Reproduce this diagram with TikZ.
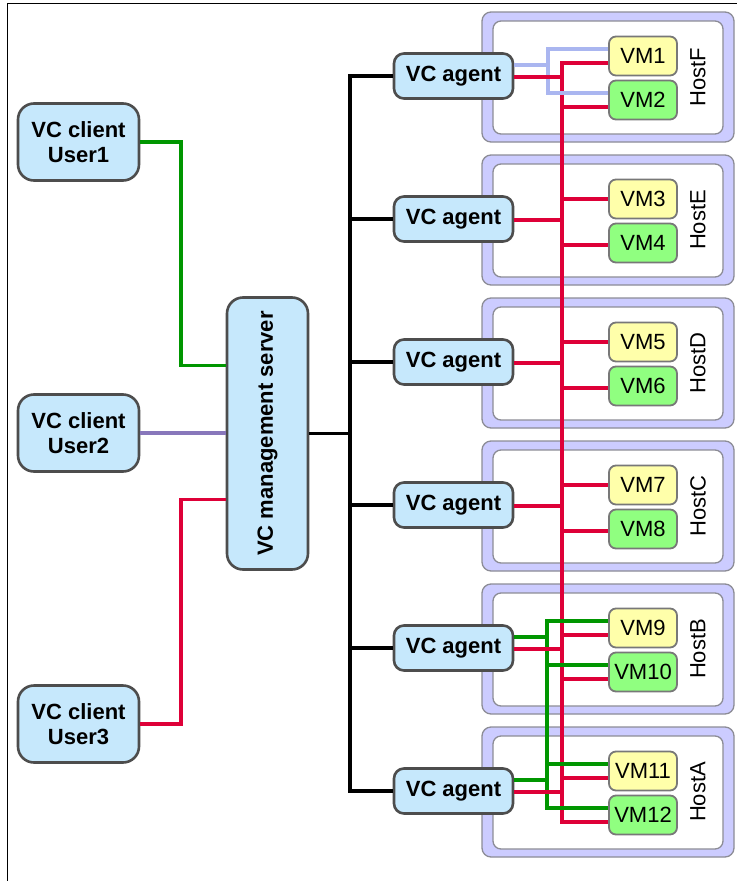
\documentclass[tikz,border=0pt]{standalone}
\usepackage{fontspec}
\setmainfont{Liberation Sans}
\usetikzlibrary{calc}

\definecolor{boxblue}{RGB}{198,232,252}
\definecolor{boxedge}{RGB}{77,77,77}
\definecolor{vmyellow}{RGB}{255,255,170}
\definecolor{vmgreen}{RGB}{144,255,128}
\definecolor{vmedge}{RGB}{120,120,120}
\definecolor{hostfill}{RGB}{204,204,255}
\definecolor{hostedge}{RGB}{140,140,150}
\definecolor{netred}{RGB}{222,0,56}
\definecolor{netgreen}{RGB}{0,150,0}
\definecolor{netpurple}{RGB}{136,119,187}
\definecolor{netlav}{RGB}{170,182,240}

\begin{document}
\begin{tikzpicture}[x=1pt,y=-1pt,
  boldtext/.style={font=\bfseries\fontsize{22}{25}\selectfont},
  client/.style={boldtext, draw=boxedge, line width=2.6pt, fill=boxblue,
    rounded corners=16pt, minimum width=121pt, minimum height=77pt,
    align=center, inner sep=0pt},
  agentbox/.style={boldtext, draw=boxedge, line width=2.6pt, fill=boxblue,
    rounded corners=10pt, minimum width=119pt, minimum height=45pt, inner sep=0pt},
  serverbox/.style={boldtext, draw=boxedge, line width=2.6pt, fill=boxblue,
    rounded corners=16pt, minimum width=272pt, minimum height=81pt,
    rotate=90, inner sep=0pt},
  vmbox/.style={font=\fontsize{22}{22}\selectfont, draw=vmedge, line width=1.8pt,
    rounded corners=7pt, minimum width=68pt, minimum height=39pt, inner sep=0pt},
  hostlabel/.style={font=\fontsize{22}{22}\selectfont, rotate=90, inner sep=0pt},
  hostouter/.style={draw=hostedge, line width=1.3pt, fill=hostfill, rounded corners=9pt},
  hostinner/.style={draw=hostedge, line width=1.3pt, fill=white, rounded corners=8pt},
  blkln/.style={line width=3.2pt, black},
  redln/.style={line width=3.3pt, netred},
  grnln/.style={line width=3.3pt, netgreen},
  purln/.style={line width=3.3pt, netpurple},
  lavln/.style={line width=3.3pt, netlav},
]
\useasboundingbox (0,0) rectangle (737,881);

% frame lines
\draw[line width=1pt] (7,881) -- (7,3.5) -- (737,3.5);

% hosts, agents and virtual machines
\foreach \k/\nm in {0/F,1/E,2/D,3/C,4/B,5/A}{
  \pgfmathsetmacro\T{12+143*\k}
  \pgfmathtruncatemacro\a{2*\k+1}
  \pgfmathtruncatemacro\b{2*\k+2}
  \draw[hostouter] (482,\T) rectangle (734,\T+130);
  \draw[hostinner] (493,\T+9) rectangle (723,\T+122);
  \node[hostlabel] (host\nm) at (698,\T+65) {Host\nm};
  \node[vmbox, fill=vmyellow] (vm\a) at (643,\T+44) {VM\a};
  \node[vmbox, fill=vmgreen] (vm\b) at (643,\T+88) {VM\b};
  \node[agentbox] (ag\k) at (453.5,\T+64) {VC agent};
}

% clients and management server
\node[client] (c1) at (78.5,142) {VC client\\User1};
\node[client] (c2) at (78.5,433) {VC client\\User2};
\node[client] (c3) at (78.5,724) {VC client\\User3};
\node[serverbox] (srv) at (267.5,433.5) {VC management server};
% the server is turned a quarter: its north side faces the clients
\coordinate (srvL) at (srv.north);
\coordinate (srvR) at (srv.south);

% bus positions
\coordinate (bb) at (350,0);
\coordinate (cx) at (181,0);
\coordinate (rb) at (562,0);
\coordinate (gb) at (547,0);
\coordinate (lb) at (548,0);

% client links
\coordinate (s1) at ($(srvL)+(0,-68)$);
\coordinate (s3) at ($(srvL)+(0,66)$);
\draw[grnln] (c1.east) -- (cx |- c1.east) -- (cx |- s1) -- (s1);
\draw[purln] (c2.east) -- (srvL |- c2.east);
\draw[redln] (c3.east) -- (cx |- c3.east) -- (cx |- s3) -- (s3);

% management bus to agents
\draw[blkln] (srvR) -- (bb |- srvR);
\draw[blkln] (ag0.west) -- (bb |- ag0.west) -- (bb |- ag5.west) -- (ag5.west);
\foreach \k in {1,2,3,4}{
  \draw[blkln] (bb |- ag\k.west) -- (ag\k.west);
}

% red network trunk
\coordinate (rtop) at ($(vm1.west)+(0,7)$);
\coordinate (rbot) at ($(vm12.west)+(0,7)$);
\draw[redln] (rtop) -- (rb |- rtop) -- (rb |- rbot) -- (rbot);

% lavender network in HostF
\coordinate (l1) at ($(vm1.west)+(0,-7)$);
\coordinate (l2) at ($(vm2.west)+(0,-7)$);
\coordinate (la) at ($(ag0.east)+(0,-11)$);
\draw[lavln] (l1) -- (lb |- l1) -- (lb |- l2) -- (l2);
\draw[lavln] (la) -- (lb |- la);

% green network across HostB and HostA
\coordinate (g9) at ($(vm9.west)+(0,-7)$);
\coordinate (g10) at ($(vm10.west)+(0,-7)$);
\coordinate (g11) at ($(vm11.west)+(0,-7)$);
\coordinate (g12) at ($(vm12.west)+(0,-7)$);
\coordinate (gaB) at ($(ag4.east)+(0,-11)$);
\coordinate (gaA) at ($(ag5.east)+(0,-11)$);
\draw[grnln] (g9) -- (gb |- g9) -- (gb |- g12) -- (g12);
\draw[grnln] (gb |- g10) -- (g10);
\draw[grnln] (gb |- g11) -- (g11);
\draw[grnln] (gaB) -- (gb |- gaB);
\draw[grnln] (gaA) -- (gb |- gaA);

% red links from agents and to the remaining VMs
\foreach \k in {0,...,5}{
  \coordinate (ra\k) at ($(ag\k.east)+(0,1)$);
  \draw[redln] (ra\k) -- (rb |- ra\k);
}
\foreach \v/\o in {2/7,3/0,4/2,5/0,6/2,7/0,8/2,9/7,10/7,11/7}{
  \coordinate (rv\v) at ($(vm\v.west)+(0,\o)$);
  \draw[redln] (rb |- rv\v) -- (rv\v);
}
\end{tikzpicture}
\end{document}
